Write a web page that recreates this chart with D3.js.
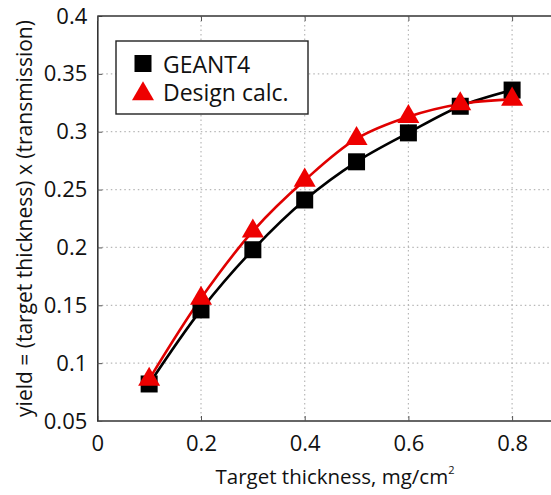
<!DOCTYPE html>
<html>
<head>
<meta charset="utf-8">
<script src="https://cdn.jsdelivr.net/npm/d3@7"></script>
<style>
  html, body { margin: 0; padding: 0; background: #fff; }
  svg { display: block; font-family: "Open Sans", "DejaVu Sans", sans-serif; }
</style>
</head>
<body>
<svg id="chart" width="551" height="495"></svg>
<script>
// Target thickness (mg/cm^2)
const thickness = [0.1, 0.2, 0.3, 0.4, 0.5, 0.6, 0.7, 0.8];
// yield = (target thickness) x (transmission)
const geant4 = [0.082, 0.146, 0.198, 0.241, 0.274, 0.299, 0.322, 0.336];
const designCalc = [0.086, 0.156, 0.214, 0.258, 0.294, 0.313, 0.324, 0.328];

const xTicks = [0, 0.2, 0.4, 0.6, 0.8];
const yTicks = [0.05, 0.1, 0.15, 0.2, 0.25, 0.3, 0.35, 0.4];

const svg = d3.select("#chart");
const W = 551, H = 495;
const plotLeft = 97.3, plotTop = 16, plotBottom = 421;

// the frame runs on past the right edge of the view (x up to 1.0)
const x = d3.scaleLinear().domain([0, 1]).range([plotLeft, plotLeft + 518.5]);
const y = d3.scaleLinear().domain([0.05, 0.4]).range([plotBottom, plotTop]);

const fmt = d => d === 0 ? "0" : String(+d.toFixed(2));

// grid
const grid = svg.append("g");
grid.selectAll(".gx").data(xTicks.filter(d => d > 0)).join("line")
  .attr("x1", d => x(d)).attr("x2", d => x(d))
  .attr("y1", plotTop).attr("y2", plotBottom)
  .attr("stroke", "#b8b8b8").attr("stroke-width", 1.2).attr("stroke-dasharray", "1.5,3");
grid.selectAll(".gy").data(yTicks.filter(d => d > 0.05 && d < 0.4)).join("line")
  .attr("x1", plotLeft).attr("x2", W)
  .attr("y1", d => y(d)).attr("y2", d => y(d))
  .attr("stroke", "#b8b8b8").attr("stroke-width", 1.2).attr("stroke-dasharray", "1.5,3");

// axes
const xAxis = d3.axisBottom(x).tickValues(xTicks).tickFormat(fmt).tickSizeInner(-5).tickSizeOuter(0).tickPadding(14);
const yAxis = d3.axisLeft(y).tickValues(yTicks).tickFormat(fmt).tickSizeInner(-5).tickSizeOuter(0).tickPadding(10);

const gx = svg.append("g").attr("transform", `translate(0,${plotBottom})`).call(xAxis);
const gy = svg.append("g").attr("transform", `translate(${plotLeft},0)`).call(yAxis);
const gt = svg.append("g").attr("transform", `translate(0,${plotTop})`)
  .call(d3.axisTop(x).tickValues(xTicks).tickFormat("").tickSizeInner(-5).tickSizeOuter(0));

[gx, gy, gt].forEach(g => {
  g.select(".domain").attr("stroke", "#333").attr("stroke-width", 1.6);
  g.selectAll(".tick line").attr("stroke", "#555").attr("stroke-width", 1);
  g.selectAll(".tick text").attr("font-size", 22).attr("fill", "#111")
    .attr("font-family", "'Open Sans', sans-serif");
});
gx.select(".domain").attr("d", `M${plotLeft},0H${W}`);
gt.select(".domain").attr("d", `M${plotLeft},0H${W}`);

// series
const curve = d3.curveCatmullRom.alpha(0.5);
const line = vals => d3.line().x((d, i) => x(thickness[i])).y(d => y(d)).curve(curve)(vals);

svg.append("path").attr("d", line(geant4))
  .attr("fill", "none").attr("stroke", "#000").attr("stroke-width", 2.6);
svg.append("path").attr("d", line(designCalc))
  .attr("fill", "none").attr("stroke", "#e00000").attr("stroke-width", 2.6);

const sq = 17;
svg.selectAll(".sq").data(geant4).join("rect")
  .attr("x", (d, i) => x(thickness[i]) - sq / 2)
  .attr("y", d => y(d) - sq / 2)
  .attr("width", sq).attr("height", sq).attr("fill", "#000");

const tri = d3.symbol().type(d3.symbolTriangle).size(210);
svg.selectAll(".tri").data(designCalc).join("path")
  .attr("d", tri)
  .attr("transform", (d, i) => `translate(${x(thickness[i])},${y(d)})`)
  .attr("fill", "#ee0000");

// legend
const lg = svg.append("g");
lg.append("rect").attr("x", 116).attr("y", 41).attr("width", 192).attr("height", 73)
  .attr("fill", "#fff").attr("stroke", "#222").attr("stroke-width", 1.4);
lg.append("rect").attr("x", 134.5).attr("y", 55).attr("width", sq).attr("height", sq).attr("fill", "#000");
lg.append("path").attr("d", tri).attr("transform", "translate(143,94)").attr("fill", "#ee0000");
lg.append("text").attr("x", 163).attr("y", 73).attr("font-size", 23).attr("fill", "#111").text("GEANT4");
lg.append("text").attr("x", 163).attr("y", 101).attr("font-size", 23).attr("fill", "#111").text("Design calc.");

// axis titles
const xt = svg.append("text").attr("x", 335).attr("y", 484).attr("text-anchor", "middle")
  .attr("font-size", 20.5).attr("fill", "#111");
xt.append("tspan").text("Target thickness, mg/cm");
xt.append("tspan").attr("font-size", 11).attr("dy", -10).text("2");

svg.append("text").attr("transform", `translate(32,${(plotTop + plotBottom) / 2}) rotate(-90)`)
  .attr("text-anchor", "middle").attr("font-size", 21).attr("fill", "#111")
  .text("yield = (target thickness) x (transmission)");
</script>
</body>
</html>
